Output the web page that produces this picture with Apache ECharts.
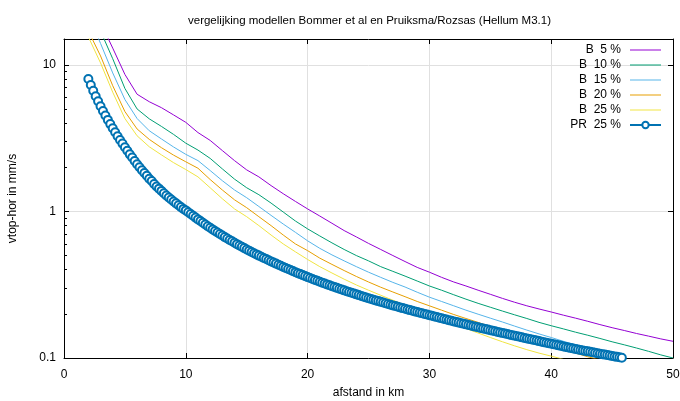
<!DOCTYPE html>
<html>
<head>
<meta charset="utf-8">
<script src="https://cdn.jsdelivr.net/npm/echarts@6/dist/echarts.min.js"></script>
<style>html,body{margin:0;padding:0;background:#fff}#c{width:680px;height:401px}</style>
</head>
<body>
<div id="c"></div>
<script>
// ---- data ----
const titleText = 'vergelijking modellen Bommer et al en Pruiksma/Rozsas (Hellum M3.1)';
const xName = 'afstand in km';
const yName = 'vtop-hor in mm/s';
const seriesNames = ['B  5 %', 'B  10 %', 'B  15 %', 'B  20 %', 'B  25 %', 'PR  25 %'];
const xTicks = [0, 10, 20, 30, 40, 50];
const yTicks = [0.1, 1, 10];
const yMinorTicks = [0.2,0.3,0.4,0.5,0.6,0.7,0.8,0.9,2,3,4,5,6,7,8,9];

// distance (km) for the B curves
const bX = [2,3,4,5,6,7,8,9,10,11,12,13,14,15,16,17,18,19,20,21,22,23,24,25,26,27,28,29,30,31,32,33,34,35,36,37,38,39,40,41,42,43,44,45,46,47,48,49,50];
const b5 = [29,19.5,13,8.6,6.3,5.6,5.1,4.55,4.05,3.45,3.05,2.6,2.22,1.92,1.72,1.5,1.32,1.17,1.04,0.93,0.83,0.74,0.67,0.605,0.55,0.5,0.455,0.415,0.385,0.355,0.33,0.31,0.29,0.272,0.255,0.24,0.227,0.216,0.206,0.196,0.187,0.178,0.169,0.161,0.154,0.147,0.141,0.135,0.13];
const b10 = [26,17,11,6.9,5.0,4.28,3.8,3.35,2.92,2.62,2.3,1.95,1.66,1.45,1.3,1.14,0.99,0.86,0.76,0.68,0.61,0.55,0.5,0.46,0.42,0.39,0.362,0.335,0.31,0.29,0.27,0.252,0.236,0.222,0.209,0.197,0.186,0.175,0.166,0.158,0.15,0.143,0.136,0.129,0.123,0.117,0.111,0.105,0.1];
const b15 = [22,14,8.8,5.8,4.3,3.55,3.12,2.75,2.45,2.22,1.9,1.62,1.4,1.24,1.08,0.94,0.82,0.72,0.63,0.56,0.505,0.46,0.42,0.385,0.355,0.328,0.305,0.281,0.26,0.243,0.227,0.212,0.199,0.187,0.176,0.165,0.155,0.146,0.138,0.13,0.123,0.116,0.11,0.104,0.098];
const b20 = [17,11.5,7.2,4.8,3.65,3.1,2.72,2.42,2.18,1.97,1.65,1.4,1.2,1.06,0.92,0.8,0.69,0.6,0.54,0.48,0.435,0.395,0.36,0.33,0.304,0.282,0.262,0.243,0.227,0.212,0.198,0.186,0.175,0.164,0.154,0.145,0.136,0.128,0.121,0.114,0.108,0.102,0.097];
const b25 = [15.5,10.3,6.5,4.3,3.28,2.76,2.43,2.15,1.93,1.72,1.45,1.22,1.04,0.92,0.8,0.69,0.6,0.53,0.47,0.42,0.38,0.345,0.315,0.29,0.268,0.248,0.23,0.213,0.198,0.184,0.171,0.159,0.148,0.138,0.129,0.121,0.114,0.108,0.103,0.098];

// Pruiksma/Rozsas curve (sampled every 0.2 km)
const prX = [2,2.2,2.4,2.6,2.8,3,3.2,3.4,3.6,3.8,4,4.2,4.4,4.6,4.8,5,5.2,5.4,5.6,5.8,6,6.2,6.4,6.6,6.8,7,7.2,7.4,7.6,7.8,8,8.2,8.4,8.6,8.8,9,9.2,9.4,9.6,9.8,
  10,10.2,10.4,10.6,10.8,11,11.2,11.4,11.6,11.8,12,12.2,12.4,12.6,12.8,13,13.2,13.4,13.6,13.8,14,14.2,14.4,14.6,14.8,15,15.2,15.4,15.6,15.8,
  16,16.2,16.4,16.6,16.8,17,17.2,17.4,17.6,17.8,18,18.2,18.4,18.6,18.8,19,19.2,19.4,19.6,19.8,20,20.2,20.4,20.6,20.8,21,21.2,21.4,21.6,21.8,
  22,22.2,22.4,22.6,22.8,23,23.2,23.4,23.6,23.8,24,24.2,24.4,24.6,24.8,25,25.2,25.4,25.6,25.8,26,26.2,26.4,26.6,26.8,27,27.2,27.4,27.6,27.8,
  28,28.2,28.4,28.6,28.8,29,29.2,29.4,29.6,29.8,30,30.2,30.4,30.6,30.8,31,31.2,31.4,31.6,31.8,32,32.2,32.4,32.6,32.8,33,33.2,33.4,33.6,33.8,
  34,34.2,34.4,34.6,34.8,35,35.2,35.4,35.6,35.8,36,36.2,36.4,36.6,36.8,37,37.2,37.4,37.6,37.8,38,38.2,38.4,38.6,38.8,39,39.2,39.4,39.6,39.8,
  40,40.2,40.4,40.6,40.8,41,41.2,41.4,41.6,41.8,42,42.2,42.4,42.6,42.8,43,43.2,43.4,43.6,43.8,44,44.2,44.4,44.6,44.8,45,45.2,45.4,45.6,45.8,46];
const prY = [8.0,7.28,6.65,6.11,5.64,5.21,4.84,4.51,4.21,3.94,3.69,3.47,3.26,3.07,2.9,2.74,2.59,2.45,2.33,2.21,2.1,2.0,1.91,1.83,1.75,1.67,1.61,1.54,1.48,1.43,1.38,1.33,1.285,1.245,1.205,1.17,1.135,1.1,1.07,1.04,
  1.016,0.988,0.96,0.933,0.907,0.882,0.859,0.836,0.815,0.793,0.773,0.754,0.736,0.718,0.701,0.684,0.668,0.653,0.639,0.625,0.611,0.598,0.586,0.574,0.562,0.550,0.540,0.529,0.519,0.509,
  0.4995,0.4905,0.4816,0.473,0.4644,0.456,0.4482,0.4405,0.4329,0.4255,0.4182,0.4114,0.4047,0.3981,0.3916,0.3852,0.3792,0.3734,0.3676,0.3619,0.3563,0.3512,0.3461,0.3411,0.3362,0.3313,0.3267,0.3222,0.3178,0.3134,
  0.3091,0.305,0.301,0.2971,0.2932,0.2893,0.2857,0.2821,0.2786,0.2751,0.2717,0.2685,0.2653,0.2621,0.259,0.2559,0.253,0.2501,0.2472,0.2444,0.2416,0.2389,0.2363,0.2337,0.2311,0.2285,0.2261,0.2237,0.2213,0.219,
  0.2166,0.2144,0.2122,0.21,0.2079,0.2058,0.2038,0.2018,0.1998,0.1978,0.1959,0.194,0.1921,0.1902,0.1883,0.1865,0.1847,0.1829,0.1812,0.1794,0.1777,0.176,0.1744,0.1728,0.1711,0.1696,0.168,0.1665,0.1649,0.1634,
  0.1619,0.1605,0.159,0.1576,0.1562,0.1548,0.1534,0.1521,0.1507,0.1494,0.1481,0.1468,0.1456,0.1443,0.1431,0.1419,0.1407,0.1395,0.1383,0.1371,0.136,0.1349,0.1337,0.1326,0.1315,0.1304,0.1293,0.1282,0.1272,0.1261,
  0.125,0.124,0.123,0.122,0.121,0.12,0.119,0.1181,0.1172,0.1162,0.1153,0.1144,0.1135,0.1127,0.1118,0.111,0.1102,0.1094,0.1086,0.1078,0.107,0.1062,0.1055,0.1047,0.104,0.1032,0.1025,0.1018,0.1012,0.1005,0.0998];

const colors = ['#9400d3', '#009e73', '#56b4e9', '#e69f00', '#f0e442', '#0072b2'];

// ---- chart ----
const FONT = 'Liberation Sans';
const chart = echarts.init(document.getElementById('c'), null, {renderer: 'canvas'});
const pair = (xs, ys) => ys.map((v, i) => [xs[i], v]);
const bSeries = [b5, b10, b15, b20, b25].map((ys, k) => ({
  name: seriesNames[k], type: 'line', data: pair(bX, ys),
  showSymbol: false, symbol: 'none', clip: true,
  lineStyle: {width: 1, color: colors[k]}, itemStyle: {color: colors[k]},
  emphasis: {disabled: true}, animation: false, z: 3
}));
const prSeries = {
  name: seriesNames[5], type: 'line', data: pair(prX, prY),
  symbol: 'emptyCircle', symbolSize: 8, clip: true,
  lineStyle: {width: 1, color: colors[5]},
  itemStyle: {color: colors[5], borderWidth: 1},
  emphasis: {disabled: true}, animation: false, z: 4
};

const lineIcon = 'path://M0 0H31V1H0Z';
chart.setOption({
  animation: false,
  textStyle: {fontFamily: FONT},
  title: {
    text: titleText, left: 183, top: 10,
    textStyle: {fontFamily: FONT, fontSize: 11.5, fontWeight: 'normal', color: '#000'}
  },
  legend: {
    orient: 'vertical', right: 13, top: 39, align: 'right',
    itemWidth: 31, itemHeight: 8, itemGap: 3,
    symbolKeepAspect: true,
    data: seriesNames.map((n, i) => i < 5 ? {name: n, icon: lineIcon} : {name: n}),
    formatter: n => '{a|' + n + '}',
    textStyle: {
      fontFamily: FONT, fontSize: 12, color: '#000',
      rich: {a: {width: 60, align: 'right', lineHeight: 11.5, padding: [0, 4, 0, 0], fontFamily: FONT, fontSize: 12, color: '#000'}}
    }
  },
  grid: {left: 64, right: 7, top: 39, bottom: 43, containLabel: false, outerBoundsMode: 'none'},
  xAxis: [{
    type: 'value', min: 0, max: 50, interval: 10,
    name: xName, nameLocation: 'middle', nameGap: 29,
    nameTextStyle: {fontFamily: FONT, fontSize: 12, color: '#000'},
    axisLine: {show: true, lineStyle: {color: '#000', width: 1}},
    axisTick: {show: true, inside: true, length: 5, lineStyle: {color: '#000'}},
    axisLabel: {fontFamily: FONT, fontSize: 12, color: '#000', margin: 11},
    splitLine: {show: true, lineStyle: {color: '#e0e0e0', width: 1}}
  }, {
    type: 'value', min: 0, max: 50, interval: 10, position: 'top',
    axisLine: {show: true, onZero: false, lineStyle: {color: '#000', width: 1}},
    axisTick: {show: true, inside: true, length: 5, lineStyle: {color: '#000'}},
    axisLabel: {show: false}, splitLine: {show: false}
  }],
  yAxis: [{
    type: 'log', logBase: 10, min: 0.1, max: 15,
    name: yName, nameLocation: 'middle', nameGap: 45, nameRotate: 90,
    nameTextStyle: {fontFamily: FONT, fontSize: 12, color: '#000'},
    axisLine: {show: true, lineStyle: {color: '#000', width: 1}},
    axisTick: {show: true, inside: true, length: 5, lineStyle: {color: '#000'}, customValues: yTicks},
    axisLabel: {fontFamily: FONT, fontSize: 12, color: '#000', margin: 8, customValues: yTicks,
      formatter: v => String(v)},
    splitLine: {show: true, lineStyle: {color: '#e0e0e0', width: 1}}
  }, {
    type: 'log', logBase: 10, min: 0.1, max: 15, position: 'left',
    axisLine: {show: false},
    axisTick: {show: true, inside: true, length: 3, lineStyle: {color: '#000'}, customValues: yMinorTicks},
    axisLabel: {show: false}, splitLine: {show: false}
  }, {
    type: 'log', logBase: 10, min: 0.1, max: 15, position: 'right',
    axisLine: {show: true, onZero: false, lineStyle: {color: '#000', width: 1}},
    axisTick: {show: true, inside: true, length: 5, lineStyle: {color: '#000'}, customValues: yTicks},
    axisLabel: {show: false}, splitLine: {show: false}
  }],
  series: [...bSeries, prSeries]
});
</script>
</body>
</html>
